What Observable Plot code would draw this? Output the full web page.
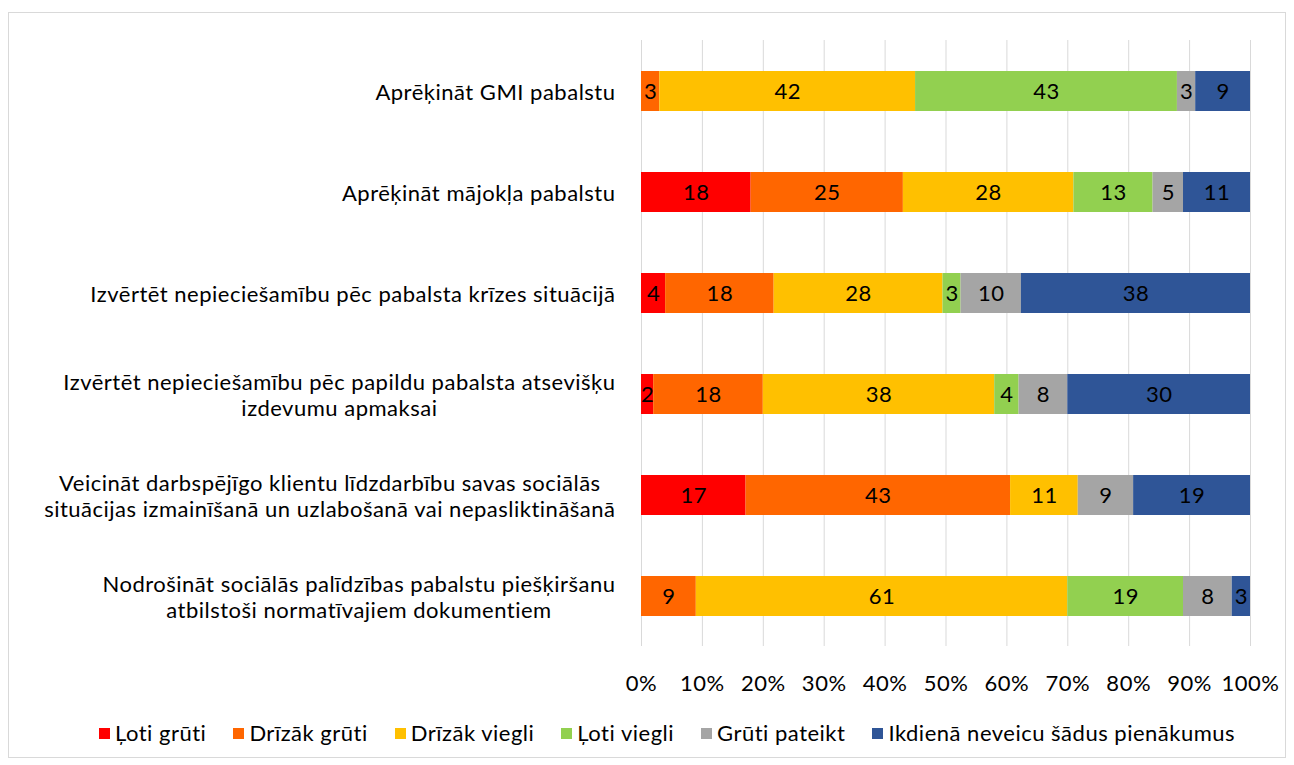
<!DOCTYPE html>
<html><head><meta charset="utf-8">
<script src="https://cdn.jsdelivr.net/npm/d3@7"></script>
<script src="https://cdn.jsdelivr.net/npm/@observablehq/plot@0.6"></script>
<style>
body{margin:0;background:#fff;font-family:Lato,"Noto Sans",sans-serif;}
#frame{position:absolute;left:8px;top:12px;width:1278px;height:746px;border:1px solid #d9d9d9;box-sizing:border-box;}
#chart{position:absolute;left:0;top:0;}
#chart svg text{letter-spacing:0.5px;}
#legend{position:absolute;left:40px;top:719px;width:1254px;display:flex;justify-content:center;gap:27px;font-size:22px;letter-spacing:0.5px;color:#000;}
#legend span.sw{display:inline-block;width:11px;height:11px;margin-right:5px;vertical-align:middle;position:relative;top:-2px;}
</style></head>
<body>
<div id="frame"></div>
<div id="chart"></div>
<div id="legend"></div>
<script>
const tasks = [
  "Aprēķināt GMI pabalstu",
  "Aprēķināt mājokļa pabalstu",
  "Izvērtēt nepieciešamību pēc pabalsta krīzes situācijā",
  "Izvērtēt nepieciešamību pēc papildu pabalsta atsevišķu\nizdevumu apmaksai",
  "Veicināt darbspējīgo klientu līdzdarbību savas sociālās\nsituācijas izmainīšanā un uzlabošanā vai nepasliktināšanā",
  "Nodrošināt sociālās palīdzības pabalstu piešķiršanu\natbilstoši normatīvajiem dokumentiem"
];
const answers = ["Ļoti grūti","Drīzāk grūti","Drīzāk viegli","Ļoti viegli","Grūti pateikt","Ikdienā neveicu šādus pienākumus"];
const colors = ["#FF0000","#FF6600","#FFC000","#92D050","#A5A5A5","#2F5597"];
// values per answer, in task order
const lotiGruti    = [0, 18, 4, 2, 17, 0];
const drizakGruti  = [3, 25, 18, 18, 43, 9];
const drizakViegli = [42, 28, 28, 38, 11, 61];
const lotiViegli   = [43, 13, 3, 4, 0, 19];
const grutiPateikt = [3, 5, 10, 8, 9, 8];
const neveicu      = [9, 11, 38, 30, 19, 3];
const xTicks = [0,0.1,0.2,0.3,0.4,0.5,0.6,0.7,0.8,0.9,1];

const series = [lotiGruti, drizakGruti, drizakViegli, lotiViegli, grutiPateikt, neveicu];
const data = [];
series.forEach((vals, i) => vals.forEach((v, j) => { if (v > 0) data.push({task: tasks[j], answer: answers[i], value: v}); }));

const stackOpts = {x: "value", y: "task", z: "answer", offset: "normalize", order: answers};

const plot = Plot.plot({
  width: 1294,
  height: 700,
  marginLeft: 641,
  marginRight: 44,
  marginTop: 40,
  marginBottom: 54,
  style: {fontFamily: "Lato, 'Noto Sans', sans-serif", fontSize: "22px", color: "#000", background: "transparent"},
  x: {domain: [0, 1], ticks: xTicks, tickFormat: d3.format(".0%")},
  y: {domain: tasks, paddingInner: 0.604, paddingOuter: 0.302},
  color: {domain: answers, range: colors},
  marks: [
    Plot.gridX(xTicks, {stroke: "#d9d9d9", strokeOpacity: 1, strokeWidth: 1}),
    Plot.barX(data, Plot.stackX({...stackOpts, fill: "answer"})),
    Plot.text(data, Plot.stackX({...stackOpts, text: d => String(d.value), fill: "#000", fontSize: 22})),
    Plot.axisX({ticks: xTicks, tickFormat: d3.format(".0%"), tickSize: 0, tickPadding: 29, fontSize: 22, label: null}),
    Plot.axisY({tickSize: 0, tickPadding: 26, fontSize: 22, lineHeight: 1.18, label: null})
  ]
});
document.getElementById("chart").appendChild(plot);

// center the lines of multi-line category labels within their block
plot.querySelectorAll('g[aria-label="y-axis tick label"] text').forEach(t => {
  const spans = t.querySelectorAll("tspan");
  if (spans.length < 2) return;
  const widths = Array.from(spans, s => s.getComputedTextLength());
  const maxW = Math.max(...widths);
  spans.forEach((s, k) => s.setAttribute("dx", -(maxW - widths[k]) / 2));
});

const lg = document.getElementById("legend");
answers.forEach((a, i) => {
  const item = document.createElement("div");
  item.innerHTML = `<span class="sw" style="background:${colors[i]}"></span>${a}`;
  lg.appendChild(item);
});
</script>
</body></html>
